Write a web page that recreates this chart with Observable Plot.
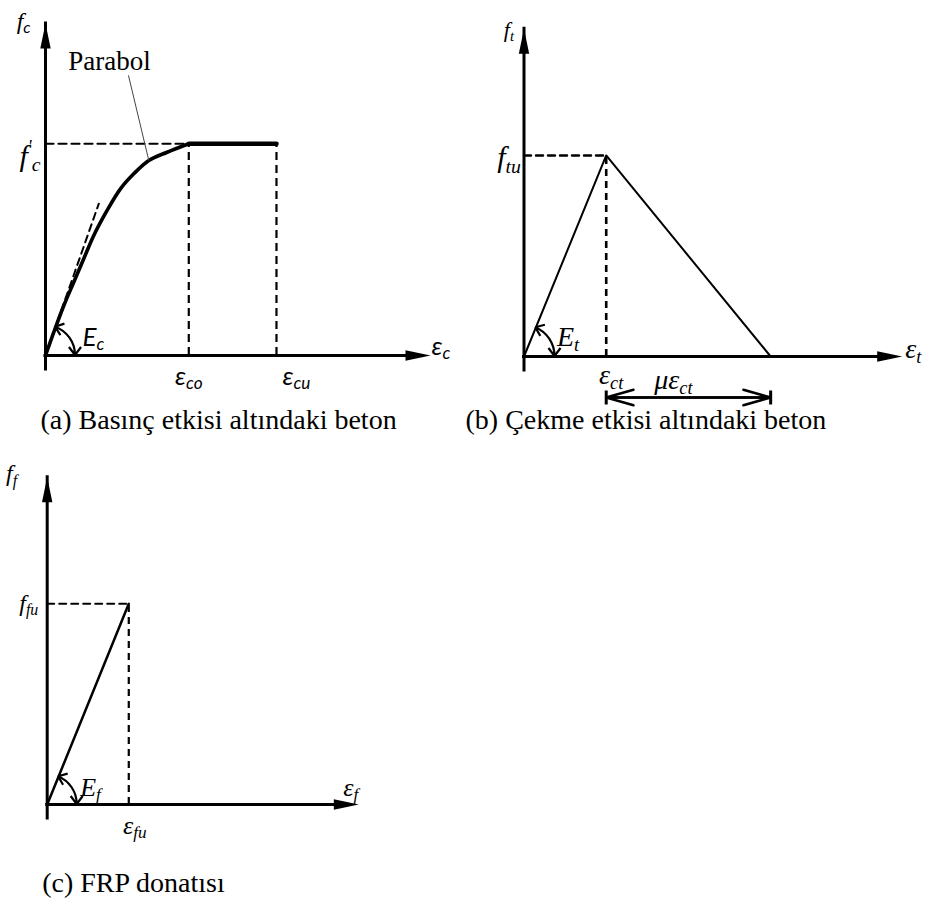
<!DOCTYPE html>
<html>
<head>
<meta charset="utf-8">
<script src="https://cdn.jsdelivr.net/npm/d3@7"></script>
<script src="https://cdn.jsdelivr.net/npm/@observablehq/plot@0.6"></script>
<style>
  html, body { margin: 0; padding: 0; background: #fff; }
  #page { position: relative; width: 939px; height: 904px; overflow: hidden; }
  .panel { position: absolute; }
  .panel svg { overflow: visible; }
</style>
</head>
<body>
<div id="page"></div>
<script>
// ---------- data (normalised units: peak strain = 1, peak stress = 1) ----------

// (a) Concrete in compression: parabola up to εco, then constant f'c up to εcu
const compStrain = [0, 0.058, 0.128, 0.197, 0.267, 0.337, 0.430, 0.523, 0.616, 0.721, 0.849, 1.0];
const compStress = [0, 0.110, 0.236, 0.346, 0.457, 0.567, 0.685, 0.787, 0.858, 0.921, 0.960, 1.0];
const compPeak = [1.0, 1.0];          // [εco, f'c]
const compUltimate = 1.612;           // εcu
const compTangentEnd = [0.372, 0.717]; // initial modulus Ec line
const compNote = [0.579, 1.323, 0.721, 0.921]; // "Parabol" leader: from, to
const compAxisEnd = [2.687, 1.568];

// (b) Concrete in tension: linear to ftu at εct, linear softening over μεct
const tensStrain = [0, 1, 3.0];
const tensStress = [0, 1, 0];
const tensAxisEnd = [4.60, 1.63];

// (c) FRP reinforcement: linear elastic up to rupture
const frpStrain = [0, 1];
const frpStress = [0, 1];
const frpAxisEnd = [3.82, 1.631];

const captions = [
  "(a) Basınç etkisi altındaki beton",
  "(b) Çekme etkisi altındaki beton",
  "(c) FRP donatısı"
];

// ---------- shared helpers ----------
const serif = "'Liberation Serif', 'Times New Roman', serif";
const sans = "Lato, 'Open Sans', 'DejaVu Sans', sans-serif";

// filled, elongated arrowhead with its tip at the symbol origin, pointing up
const arrowHead = {
  draw(context, size) {
    const r = Math.sqrt(size / Math.PI);
    context.moveTo(0, 0);
    context.lineTo(r * 0.52, r * 2.5);
    context.lineTo(-r * 0.52, r * 2.5);
    context.closePath();
  }
};
// short vertical bar used as dimension-line end stop
const endBar = {
  draw(context, size) {
    const r = Math.sqrt(size / Math.PI);
    context.moveTo(0, -r);
    context.lineTo(0, r);
  }
};

const pts = (xs, ys) => xs.map((x, i) => [x, ys[i]]);

function axes([xEnd, yEnd]) {
  return [
    Plot.ruleY([0], {x1: 0, x2: xEnd, strokeWidth: 3, insetRight: 14, strokeLinecap: "square"}),
    Plot.ruleX([0], {y1: 0, y2: yEnd, strokeWidth: 3, insetTop: 14, strokeLinecap: "square"}),
    Plot.dot([[xEnd, 0]], {symbol: arrowHead, r: 10, rotate: 90, fill: "black", stroke: "none"}),
    Plot.dot([[0, yEnd]], {symbol: arrowHead, r: 10, fill: "black", stroke: "none"})
  ];
}

// double-headed arc marking the elastic modulus angle at the origin
function modulusArc(slopePoint, radius) {
  return (index, scales) => {
    const ox = scales.x(0), oy = scales.y(0);
    const a0 = Math.atan2(scales.y(slopePoint[1]) - oy, scales.x(slopePoint[0]) - ox);
    const p = d3.path();
    p.arc(ox, oy, radius, a0, 0);
    const head = (a, dir) => {
      const px = ox + radius * Math.cos(a), py = oy + radius * Math.sin(a);
      const back = Math.atan2(Math.cos(a) * dir, -Math.sin(a) * dir) + Math.PI;
      for (const s of [-1, 1]) {
        const g = back + s * 0.65;
        p.moveTo(px, py);
        p.lineTo(px + 10 * Math.cos(g), py + 10 * Math.sin(g));
      }
    };
    head(a0, -1);
    head(0, 1);
    return d3.create("svg:path")
      .attr("d", p.toString())
      .attr("fill", "none")
      .attr("stroke", "black")
      .attr("stroke-width", 2.2)
      .node();
  };
}

function label(text, x, y, o = {}) {
  return Plot.text([{x, y, text}], {
    x: "x", y: "y", text: "text",
    lineAnchor: "bottom", fontStyle: "italic", fontFamily: serif, fontSize: 26, fill: "black",
    ...o
  });
}

function caption(text, o = {}) {
  return Plot.text([text], {
    frameAnchor: "bottom-left", text: d => d, textAnchor: "start", lineAnchor: "bottom",
    fontFamily: serif, fontSize: 28, fill: "black", ...o
  });
}

// turn "ε_co" / "f^'_c" / "f~c" into baseline-shifted tspans
const svgNS = "http://www.w3.org/2000/svg";
function typeset(svg) {
  for (const t of svg.querySelectorAll("text")) {
    const s = t.textContent;
    if (!/[_~^]/.test(s)) continue;
    const F = parseFloat(getComputedStyle(t).fontSize);
    const parts = s.split(/(?=[_~^])/);
    t.textContent = "";
    let cur = 0, prev = null;
    for (const part of parts) {
      const k = part[0];
      const ts = document.createElementNS(svgNS, "tspan");
      let shift = 0;
      if (k === "_" || k === "~") {
        shift = 0.18 * F;
        ts.setAttribute("font-size", 0.66 * F);
        if (k === "~") ts.setAttribute("font-family", sans);
        ts.textContent = part.slice(1);
      } else if (k === "^") {
        shift = -0.42 * F;
        ts.setAttribute("font-size", 0.6 * F);
        ts.textContent = part.slice(1);
      } else {
        ts.textContent = part;
      }
      if (shift !== cur) ts.setAttribute("dy", shift - cur);
      cur = shift;
      prev = k;
      t.appendChild(ts);
    }
  }
}

const dash = {strokeDasharray: "8,5", strokeWidth: 2.2};

// ---------- (a) compression ----------
const [eco, fc] = compPeak;
const plotA = Plot.plot({
  width: 460, height: 445,
  marginLeft: 45, marginRight: 30, marginTop: 23, marginBottom: 90,
  x: {domain: [0, compAxisEnd[0]], axis: null},
  y: {domain: [0, compAxisEnd[1]], axis: null},
  style: {overflow: "visible", background: "transparent"},
  marks: [
    Plot.line([[0, fc], [eco, fc]], dash),
    Plot.ruleX([eco, compUltimate], {y1: 0, y2: fc, ...dash}),
    Plot.line([[0, 0], compTangentEnd], {strokeDasharray: "7,5", strokeWidth: 2}),
    Plot.line(pts(compStrain, compStress), {curve: "catmull-rom", strokeWidth: 3.6}),
    Plot.line([[eco, fc], [compUltimate, fc]], {strokeWidth: 4.6}),
    Plot.link([compNote], {x1: d => d[0], y1: d => d[1], x2: d => d[2], y2: d => d[3], strokeWidth: 1, stroke: "#444"}),
    ...axes(compAxisEnd),
    modulusArc(compTangentEnd, 30),
    label("f~c", 0, compAxisEnd[1], {textAnchor: "end", dx: -15, dy: 5, fontSize: 24}),
    label("f^'_c", 0, fc, {textAnchor: "end", dx: -5, dy: 22, fontSize: 30}),
    label("Parabol", compNote[0], compNote[1], {textAnchor: "middle", dx: -19, dy: -5, fontSize: 27, fontStyle: "normal"}),
    label("ε_co", eco, 0, {textAnchor: "middle", dy: 29, fontFamily: sans}),
    label("ε_cu", compUltimate, 0, {textAnchor: "middle", dx: 20, dy: 29, fontFamily: sans}),
    label("ε_c", compAxisEnd[0], 0, {textAnchor: "start", dx: 1, dy: -1, fontFamily: sans}),
    label("E_c", 0, 0, {textAnchor: "start", dx: 37, dy: -10, fontFamily: sans}),
    caption(captions[0], {dx: -5, dy: 73})
  ]
});

// ---------- (b) tension ----------
const ect = tensStrain[1], ftu = tensStress[1], eEnd = tensStrain[2];
const plotB = Plot.plot({
  width: 479, height: 445,
  marginLeft: 63.5, marginRight: 37.3, marginTop: 28.3, marginBottom: 89,
  x: {domain: [0, tensAxisEnd[0]], axis: null},
  y: {domain: [0, tensAxisEnd[1]], axis: null},
  style: {overflow: "visible", background: "transparent"},
  marks: [
    Plot.line([[0, ftu], [ect, ftu]], {strokeDasharray: "7,5", strokeWidth: 2.4}),
    Plot.ruleX([ect], {y1: 0, y2: ftu, strokeDasharray: "7,5", strokeWidth: 2.6}),
    Plot.line(pts(tensStrain, tensStress), {strokeWidth: 2}),
    ...axes(tensAxisEnd),
    modulusArc([ect, ftu], 31),
    // μεct dimension line below the axis
    Plot.arrow([[ect, eEnd]], {x1: d => d[0], x2: d => d[1], y1: 0, y2: 0, dy: 41, strokeWidth: 2.5, headAngle: 32, headLength: 17}),
    Plot.arrow([[eEnd, ect]], {x1: d => d[0], x2: d => d[1], y1: 0, y2: 0, dy: 41, strokeWidth: 2.5, headAngle: 32, headLength: 17}),
    Plot.dot([ect, eEnd], {x: d => d, y: 0, dy: 41, symbol: endBar, r: 7, stroke: "black", strokeWidth: 3}),
    label("f_t", 0, tensAxisEnd[1], {textAnchor: "end", dx: -10, dy: 8, fontSize: 22}),
    label("f_tu", 0, ftu, {textAnchor: "end", dx: -3, dy: 12, fontSize: 30}),
    label("ε_t", tensAxisEnd[0], 0, {textAnchor: "start", dx: 3, dy: 1, fontSize: 28}),
    label("ε_ct", ect, 0, {textAnchor: "middle", dx: 5, dy: 27, fontSize: 28}),
    label("με_ct", (ect + eEnd) / 2, 0, {textAnchor: "middle", dx: -15, dy: 32, fontSize: 28}),
    label("E_t", 0, 0, {textAnchor: "start", dx: 33, dy: -11, fontSize: 28}),
    caption(captions[1], {dx: -58.5, dy: 72})
  ]
});

// ---------- (c) FRP ----------
const efu = frpStrain[1], ffu = frpStress[1];
const plotC = Plot.plot({
  width: 460, height: 459,
  marginLeft: 46.7, marginRight: 101.7, marginTop: 31.7, marginBottom: 100,
  x: {domain: [0, frpAxisEnd[0]], axis: null},
  y: {domain: [0, frpAxisEnd[1]], axis: null},
  style: {overflow: "visible", background: "transparent"},
  marks: [
    Plot.line([[0, ffu], [efu, ffu]], {strokeDasharray: "7,5", strokeWidth: 2}),
    Plot.ruleX([efu], {y1: 0, y2: ffu, strokeDasharray: "7,5", strokeWidth: 2.2}),
    Plot.line(pts(frpStrain, frpStress), {strokeWidth: 2.5}),
    ...axes(frpAxisEnd),
    modulusArc([efu, ffu], 30),
    label("f_f", 0, frpAxisEnd[1], {textAnchor: "end", dx: -30, dy: 4, fontSize: 24}),
    label("f_fu", 0, ffu, {textAnchor: "end", dx: -9, dy: 7, fontSize: 24}),
    label("ε_f", frpAxisEnd[0], 0, {textAnchor: "middle", dx: -8, dy: -9, fontSize: 26}),
    label("ε_fu", efu, 0, {textAnchor: "middle", dx: 6, dy: 29, fontSize: 26}),
    label("E_f", 0, 0, {textAnchor: "start", dx: 33, dy: -9, fontSize: 26}),
    caption(captions[2], {dx: -5, dy: 87})
  ]
});

// ---------- layout ----------
const page = document.getElementById("page");
[[plotA, 0, 0], [plotB, 460, 0], [plotC, 0, 445]].forEach(([svg, left, top]) => {
  const div = document.createElement("div");
  div.className = "panel";
  div.style.left = left + "px";
  div.style.top = top + "px";
  div.appendChild(svg);
  page.appendChild(div);
  typeset(svg);
});
</script>
</body>
</html>
